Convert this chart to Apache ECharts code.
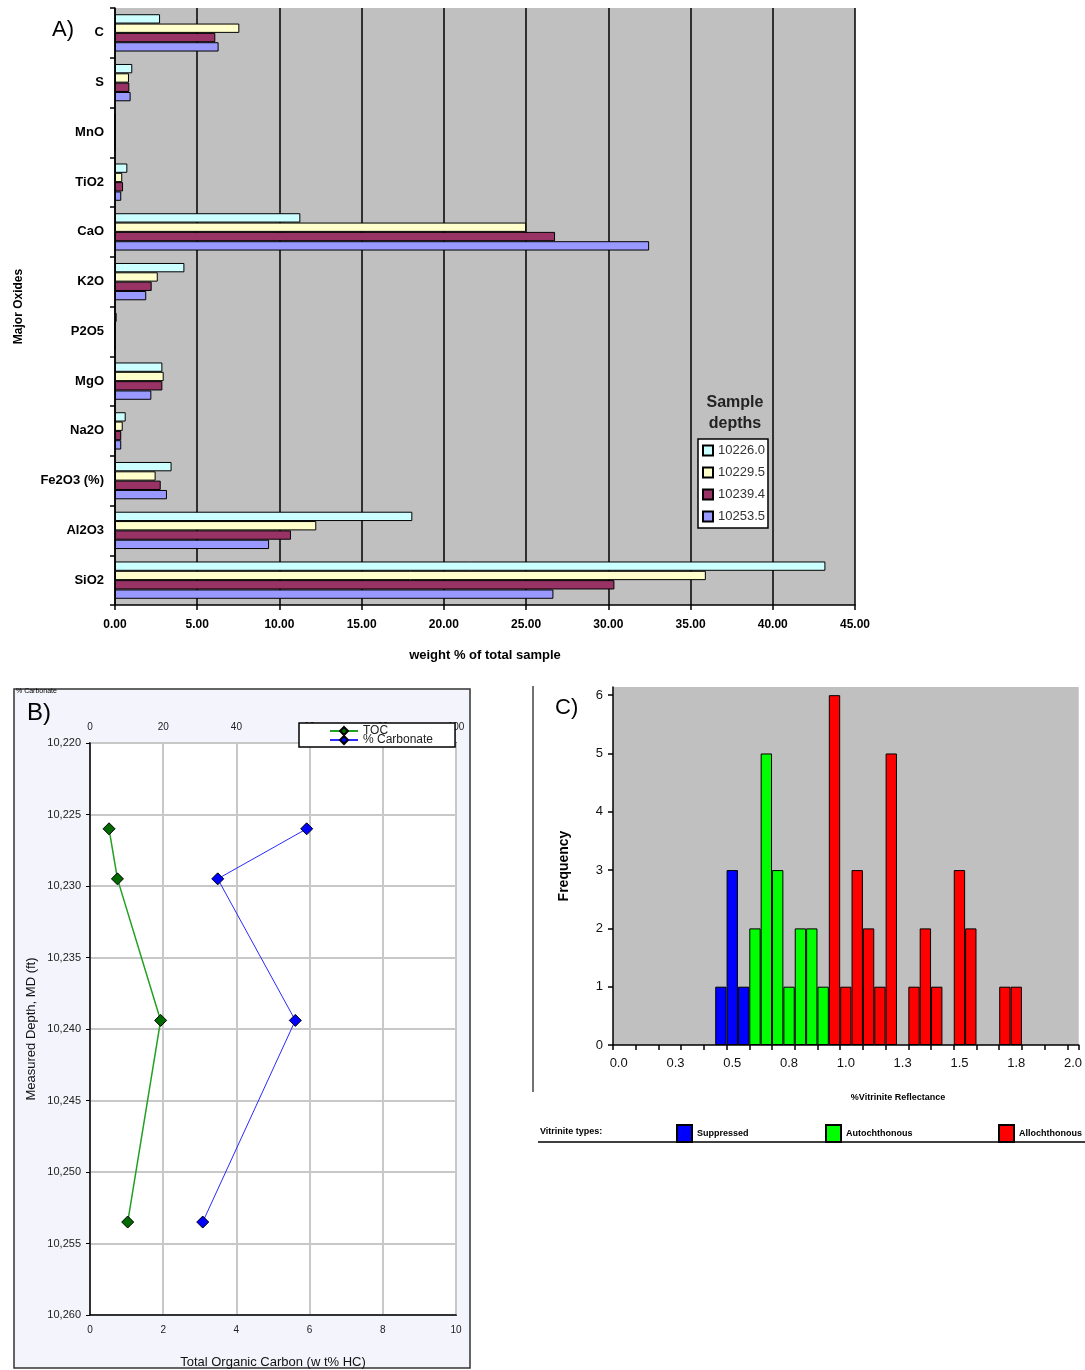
<!DOCTYPE html>
<html>
<head>
<meta charset="utf-8">
<script src="https://cdn.jsdelivr.net/npm/echarts@6/dist/echarts.min.js"></script>
<style>
  html, body { margin: 0; padding: 0; background: #fff; }
  #chart { width: 1085px; height: 1370px; }
</style>
</head>
<body>
<div id="chart"></div>
<script>
// A) major oxides, weight % of total sample
var oxides = ['C', 'S', 'MnO', 'TiO2', 'CaO', 'K2O', 'P2O5', 'MgO', 'Na2O', 'Fe2O3 (%)', 'Al2O3', 'SiO2'];
var sampleDepths = ['10226.0', '10229.5', '10239.4', '10253.5'];
var ox10226 = [2.74, 1.05, 0, 0.75, 11.27, 4.22, 0.1, 2.88, 0.65, 3.44, 18.08, 43.2];
var ox10229 = [7.56, 0.85, 0, 0.44, 25.0, 2.6, 0, 2.96, 0.47, 2.47, 12.24, 35.93];
var ox10239 = [6.1, 0.87, 0, 0.49, 26.76, 2.23, 0, 2.88, 0.38, 2.78, 10.7, 30.37];
var ox10253 = [6.3, 0.95, 0, 0.38, 32.48, 1.9, 0, 2.21, 0.38, 3.16, 9.37, 26.66];
var depthColors = ['#ccffff', '#ffffcc', '#993366', '#9999ff'];

// B) TOC and carbonate against depth
var depths = [10226.0, 10229.5, 10239.4, 10253.5];
var toc = [0.52, 0.75, 1.93, 1.03];
var carbonate = [59.2, 34.9, 56.1, 30.8];

// C) vitrinite reflectance histogram
var reflectance = ['0.00', '0.05', '0.10', '0.15', '0.20', '0.25', '0.30', '0.35', '0.40', '0.45',
    '0.50', '0.55', '0.60', '0.65', '0.70', '0.75', '0.80', '0.85', '0.90', '0.95',
    '1.00', '1.05', '1.10', '1.15', '1.20', '1.25', '1.30', '1.35', '1.40', '1.45',
    '1.50', '1.55', '1.60', '1.65', '1.70', '1.75', '1.80', '1.85', '1.90', '1.95', '2.00'];
var suppressed = [null, null, null, null, null, null, null, null, null, 1,
    3, 1, null, null, null, null, null, null, null, null,
    null, null, null, null, null, null, null, null, null, null,
    null, null, null, null, null, null, null, null, null, null, null];
var autochthonous = [null, null, null, null, null, null, null, null, null, null,
    null, null, 2, 5, 3, 1, 2, 2, 1, null,
    null, null, null, null, null, null, null, null, null, null,
    null, null, null, null, null, null, null, null, null, null, null];
var allochthonous = [null, null, null, null, null, null, null, null, null, null,
    null, null, null, null, null, null, null, null, null, 6,
    1, 3, 2, 1, 5, null, 1, 2, 1, null,
    3, 2, null, null, 1, 1, null, null, null, null, null];

var font = 'Liberation Sans, Arial, sans-serif';

function oxideBar(name, data, color) {
    return {
        type: 'bar',
        name: name,
        xAxisIndex: 0,
        yAxisIndex: 0,
        data: data,
        barGap: '0%',
        barCategoryGap: '25%',
        itemStyle: {color: color, borderColor: '#000', borderWidth: 1}
    };
}

function vitBar(name, data, color) {
    return {
        type: 'bar',
        name: name,
        stack: 'vit',
        xAxisIndex: 3,
        yAxisIndex: 2,
        data: data,
        barCategoryGap: '0%',
        itemStyle: {color: color, borderColor: '#000', borderWidth: 1}
    };
}

function commaDepth(v) {
    return String(v).replace(/(\d)(\d{3})$/, '$1,$2');
}

function vitLegend(name, left) {
    return {
        data: [name], left: left, top: 1124, icon: 'rect',
        itemWidth: 15, itemHeight: 17, padding: 0,
        textStyle: {fontSize: 9, fontWeight: 'bold', color: '#000'}
    };
}

var myChart = echarts.init(document.getElementById('chart'));
myChart.setOption({
    animation: false,
    textStyle: {fontFamily: font},
    grid: [
        {left: 115, top: 8, width: 740, height: 597, show: true, backgroundColor: '#c0c0c0', borderWidth: 0},
        {left: 90, top: 743, width: 366, height: 572, show: true, backgroundColor: '#fff', borderColor: '#000', borderWidth: 1.5},
        {left: 613, top: 687, width: 472, height: 358, show: true, backgroundColor: '#c0c0c0', borderWidth: 0}
    ],
    xAxis: [
        {
            type: 'value', gridIndex: 0, min: 0, max: 45, interval: 5,
            name: 'weight % of total sample', nameLocation: 'middle', nameGap: 44,
            nameTextStyle: {fontWeight: 'bold', fontSize: 13, color: '#000'},
            axisLine: {show: true, lineStyle: {color: '#000', width: 1.5}},
            axisTick: {show: true, length: 5, lineStyle: {color: '#000', width: 1.5}},
            axisLabel: {
                margin: 14, fontWeight: 'bold', fontSize: 12, color: '#000',
                formatter: function (v) { return v.toFixed(2); }
            },
            splitLine: {show: true, lineStyle: {color: '#000', width: 1.5}}
        },
        {
            type: 'value', gridIndex: 1, min: 0, max: 10, interval: 2,
            name: 'Total Organic Carbon (w t% HC)', nameLocation: 'middle', nameGap: 41,
            nameTextStyle: {fontSize: 13, color: '#111'},
            axisLine: {show: true, lineStyle: {color: '#000', width: 1.5}},
            axisTick: {show: false},
            axisLabel: {margin: 10, fontSize: 10, color: '#222'},
            splitLine: {show: true, lineStyle: {color: '#c8c8c8', width: 2}}
        },
        {
            type: 'value', gridIndex: 1, position: 'top', min: 0, max: 100, interval: 20,
            axisLine: {show: false},
            axisTick: {show: false},
            axisLabel: {margin: 11, fontSize: 10, color: '#222'},
            splitLine: {show: false}
        },
        {
            type: 'category', gridIndex: 2, data: reflectance,
            axisLine: {show: true, lineStyle: {color: '#000', width: 1.5}},
            axisTick: {show: true, interval: 1, length: 5, lineStyle: {color: '#000', width: 1.5}},
            axisLabel: {
                interval: 4, margin: 12, fontSize: 13, color: '#111',
                formatter: function (v) { return parseFloat(v).toFixed(1); }
            },
            splitLine: {show: false}
        }
    ],
    yAxis: [
        {
            type: 'category', gridIndex: 0, data: oxides, inverse: true,
            name: 'Major Oxides', nameLocation: 'middle', nameGap: 90,
            nameTextStyle: {fontWeight: 'bold', fontSize: 12, color: '#000'},
            axisLine: {show: true, lineStyle: {color: '#000', width: 1.5}},
            axisTick: {show: true, length: 5, lineStyle: {color: '#000', width: 1.5}},
            axisLabel: {margin: 11, fontWeight: 'bold', fontSize: 13, color: '#000'}
        },
        {
            type: 'value', gridIndex: 1, inverse: true, min: 10220, max: 10260, interval: 5,
            name: 'Measured Depth, MD (ft)', nameLocation: 'middle', nameGap: 52,
            nameTextStyle: {fontSize: 13, color: '#111'},
            axisLine: {show: true, lineStyle: {color: '#000', width: 1.5}},
            axisTick: {show: true, length: 4, lineStyle: {color: '#000'}},
            axisLabel: {margin: 9, fontSize: 11, color: '#222', formatter: commaDepth},
            splitLine: {show: true, lineStyle: {color: '#c8c8c8', width: 2}}
        },
        {
            type: 'value', gridIndex: 2, min: 0, max: 6.14, interval: 1,
            name: 'Frequency', nameLocation: 'middle', nameGap: 42,
            nameTextStyle: {fontWeight: 'bold', fontSize: 14, color: '#000'},
            axisLine: {show: true, lineStyle: {color: '#000', width: 1.5}},
            axisTick: {show: true, length: 5, lineStyle: {color: '#000', width: 1.5}},
            axisLabel: {margin: 10, fontSize: 13, color: '#111', showMaxLabel: false},
            splitLine: {show: false}
        }
    ],
    legend: [
        {
            data: sampleDepths, orient: 'vertical', left: 698, top: 439, icon: 'rect',
            backgroundColor: '#fff', borderColor: '#000', borderWidth: 1.5,
            padding: [5, 3, 5, 4], itemGap: 9, itemWidth: 10, itemHeight: 10,
            textStyle: {fontSize: 13, color: '#333'}
        },
        {
            data: ['TOC', '% Carbonate'], orient: 'vertical', left: 299, top: 723,
            backgroundColor: '#fff', borderColor: '#000', borderWidth: 1.5,
            padding: [2, 22, 1, 30], itemGap: -3, itemWidth: 28, itemHeight: 10,
            textStyle: {fontSize: 12, color: '#222', lineHeight: 12}
        },
        vitLegend('Suppressed', 676),
        vitLegend('Autochthonous', 825),
        vitLegend('Allochthonous', 998)
    ],
    graphic: [
        {type: 'rect', z: -10, shape: {x: 14, y: 689, width: 456, height: 679},
            style: {fill: '#f4f4fc', stroke: '#333', lineWidth: 1.5}},
        {type: 'text', left: 52, top: 19, style: {text: 'A)', font: '22px ' + font, fill: '#000'}},
        {type: 'text', left: 27, top: 701, style: {text: 'B)', font: '24px ' + font, fill: '#000'}},
        {type: 'text', left: 555, top: 697, style: {text: 'C)', font: '22px ' + font, fill: '#000'}},
        {type: 'text', left: 16, top: 688, style: {text: '% Carbonate', font: '7px ' + font, fill: '#000'}},
        {type: 'text', x: 735, y: 392, style: {text: 'Sample\ndepths', font: 'bold 16px ' + font,
            fill: '#222', textAlign: 'center', lineHeight: 21}},
        {type: 'text', x: 898, y: 1093, style: {text: '%Vitrinite Reflectance', font: 'bold 9px ' + font,
            fill: '#000', textAlign: 'center'}},
        {type: 'text', left: 540, top: 1127, style: {text: 'Vitrinite types:', font: 'bold 9px ' + font, fill: '#000'}},
        {type: 'line', shape: {x1: 538, y1: 1142, x2: 1085, y2: 1142}, style: {stroke: '#000', lineWidth: 1.5}},
        {type: 'line', shape: {x1: 533, y1: 686, x2: 533, y2: 1092}, style: {stroke: '#444', lineWidth: 1.5}}
    ],
    series: [
        oxideBar(sampleDepths[0], ox10226, depthColors[0]),
        oxideBar(sampleDepths[1], ox10229, depthColors[1]),
        oxideBar(sampleDepths[2], ox10239, depthColors[2]),
        oxideBar(sampleDepths[3], ox10253, depthColors[3]),
        {
            type: 'line', name: 'TOC', xAxisIndex: 1, yAxisIndex: 1,
            data: depths.map(function (d, i) { return [toc[i], d]; }),
            symbol: 'diamond', symbolSize: 12,
            lineStyle: {color: '#22a022', width: 1.5},
            itemStyle: {color: '#006a00', borderColor: '#000', borderWidth: 1}
        },
        {
            type: 'line', name: '% Carbonate', xAxisIndex: 2, yAxisIndex: 1,
            data: depths.map(function (d, i) { return [carbonate[i], d]; }),
            symbol: 'diamond', symbolSize: 12,
            lineStyle: {color: '#2a2aff', width: 1},
            itemStyle: {color: '#0000ff', borderColor: '#000', borderWidth: 1}
        },
        vitBar('Suppressed', suppressed, '#0000ff'),
        vitBar('Autochthonous', autochthonous, '#00ff00'),
        vitBar('Allochthonous', allochthonous, '#ff0000')
    ]
});
</script>
</body>
</html>
